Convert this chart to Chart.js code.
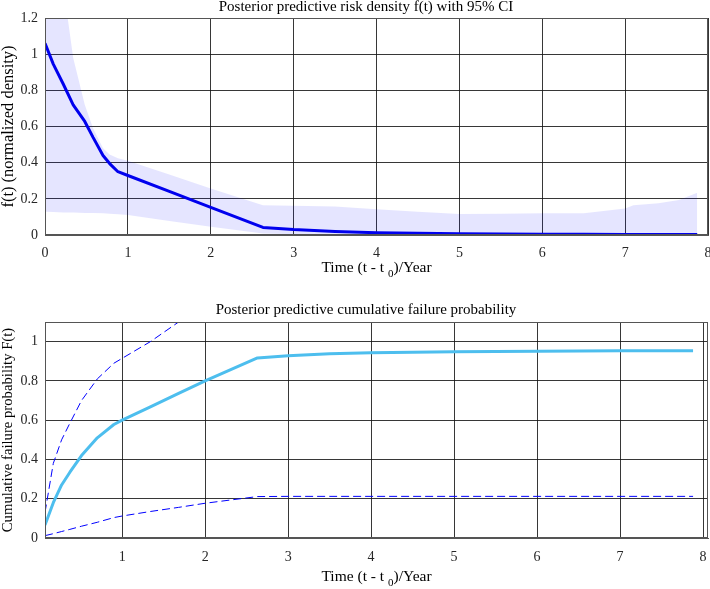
<!DOCTYPE html>
<html>
<head>
<meta charset="utf-8">
<script src="https://cdn.jsdelivr.net/npm/chart.js@4.4.1/dist/chart.umd.min.js"></script>
<style>
  html, body { margin: 0; padding: 0; background: #fff; }
  #wrap { position: relative; width: 710px; height: 589px; overflow: hidden; }
  canvas { position: absolute; left: 0; }
  #cTop { top: 0; }
  #cBot { top: 300px; }
</style>
</head>
<body>
<div id="wrap">
  <canvas id="cTop" width="710" height="300"></canvas>
  <canvas id="cBot" width="710" height="289"></canvas>
</div>
<script>
// --- density plot (top) ---
const tDensity     = [0, 0.1, 0.22, 0.34, 0.48, 0.58, 0.7, 0.78, 0.88, 1.0, 1.5, 2.0, 2.63, 3.0, 3.5, 4.0, 4.5, 5.0, 5.5, 6.0, 6.5, 7.0, 7.1, 7.4, 7.65, 7.87];
const densityMean  = [1.06, 0.945, 0.835, 0.72, 0.628, 0.54, 0.44, 0.395, 0.35, 0.329, 0.241, 0.153, 0.042, 0.03, 0.02, 0.013, 0.009, 0.007, 0.005, 0.004, 0.004, 0.003, 0.003, 0.003, 0.003, 0.003];
const densityUpper = [2.2, 1.8, 1.38, 0.98, 0.72, 0.59, 0.48, 0.445, 0.425, 0.41, 0.335, 0.257, 0.165, 0.162, 0.158, 0.142, 0.128, 0.116, 0.118, 0.12, 0.12, 0.147, 0.165, 0.176, 0.193, 0.234];
const densityLower = [0.128, 0.127, 0.125, 0.124, 0.122, 0.121, 0.12, 0.118, 0.115, 0.11, 0.078, 0.046, 0.008, 0.004, 0.002, 0.002, 0.001, 0.001, 0.001, 0.001, 0.001, 0.001, 0.001, 0.001, 0.001, 0.001];

// --- cumulative plot (bottom) ---
const tCdf     = [0.07, 0.17, 0.27, 0.37, 0.51, 0.7, 0.9, 1.0, 1.34, 1.68, 2.0, 2.63, 3.0, 3.5, 4.0, 5.0, 6.0, 7.0, 7.88];
const cdfMean  = [0.066, 0.18, 0.27, 0.335, 0.42, 0.51, 0.578, 0.6, 0.668, 0.736, 0.8, 0.917, 0.928, 0.938, 0.943, 0.948, 0.951, 0.953, 0.954];
const cdfUpper = [0.13, 0.38, 0.5, 0.585, 0.7, 0.81, 0.89, 0.915, 1.0, 1.1, 1.19, 1.36, 1.37, 1.38, 1.38, 1.38, 1.38, 1.38, 1.38];
const cdfLower = [0.012, 0.022, 0.033, 0.044, 0.06, 0.08, 0.104, 0.112, 0.135, 0.156, 0.177, 0.211, 0.212, 0.212, 0.212, 0.212, 0.212, 0.212, 0.212];

// tick labels
const xTicksTop = [0, 1, 2, 3, 4, 5, 6, 7, 8];
const yTicksTop = [0, 0.2, 0.4, 0.6, 0.8, 1, 1.2];
const xTicksBot = [1, 2, 3, 4, 5, 6, 7, 8];
const yTicksBot = [0, 0.2, 0.4, 0.6, 0.8, 1];

const serif = "'Liberation Serif', 'Times New Roman', serif";
Chart.defaults.font.family = serif;
Chart.defaults.font.size = 14;
Chart.defaults.color = '#262626';

const pts = (xs, ys) => xs.map((x, i) => ({ x: x, y: ys[i] }));

// fix axis box size and drop the extra label padding chart.js adds
function fixSize(size) {
  return function (scale) {
    if (scale.isHorizontal()) scale.height = size; else scale.width = size;
    scale.paddingLeft = 0; scale.paddingRight = 0;
    scale.paddingTop = 0; scale.paddingBottom = 0;
  };
}
function useTicks(list) {
  return function (scale) { scale.ticks = list.map(v => ({ value: v })); };
}

// box around plot area, title, and x label with a subscript t0
const axesBox = {
  id: 'axesBox',
  afterDraw(chart, args, opts) {
    const { ctx, chartArea: a } = chart;
    ctx.save();
    ctx.strokeStyle = '#555';
    ctx.lineWidth = 1;
    ctx.strokeRect(Math.round(a.left) + 0.5, Math.round(a.top) + 0.5,
      Math.round(a.right - a.left) - 1, Math.round(a.bottom - a.top) - 1);

    ctx.fillStyle = '#000';
    ctx.textBaseline = 'middle';
    ctx.font = '15px ' + serif;
    ctx.textAlign = 'center';
    ctx.fillText(opts.text, opts.x, opts.y);

    // x label: "Time (t - t" + subscript "0" + ")/Year"
    const big = '15.5px ' + serif, small = '11px ' + serif;
    const p1 = 'Time (t - t ', p2 = '0', p3 = ')/Year';
    ctx.font = big;
    const w1 = ctx.measureText(p1).width, w3 = ctx.measureText(p3).width;
    ctx.font = small;
    const w2 = ctx.measureText(p2).width;
    const cx = (a.left + a.right) / 2;
    let x = cx - (w1 + w2 + w3) / 2;
    ctx.textAlign = 'left';
    ctx.font = big;
    ctx.fillText(p1, x, opts.xLabelY);
    x += w1;
    ctx.font = small;
    ctx.fillText(p2, x, opts.xLabelY + 6);
    x += w2;
    ctx.font = big;
    ctx.fillText(p3, x, opts.xLabelY);
    ctx.restore();
  }
};

function baseScales(xmin, xmax, ymin, ymax, xt, yt, yTitle, yTitleSize, xHeight, xPad) {
  return {
    x: {
      type: 'linear', min: xmin, max: xmax,
      afterBuildTicks: useTicks(xt),
      afterFit: fixSize(xHeight),
      grid: { color: 'rgba(20,20,20,0.85)', lineWidth: 1, drawTicks: false },
      border: { color: '#555' },
      ticks: { padding: xPad, callback: v => String(v) },
      title: { display: false }
    },
    y: {
      type: 'linear', min: ymin, max: ymax,
      afterBuildTicks: useTicks(yt),
      afterFit: fixSize(45),
      grid: { color: 'rgba(20,20,20,0.85)', lineWidth: 1, drawTicks: false },
      border: { color: '#555' },
      ticks: { padding: 7, callback: v => String(+v.toFixed(1)) },
      title: { display: true, text: yTitle, color: '#000', font: { size: yTitleSize }, padding: { top: -1, bottom: 0 } }
    }
  };
}

new Chart(document.getElementById('cTop'), {
  type: 'line',
  data: {
    datasets: [
      { data: pts(tDensity, densityMean), borderColor: '#0000ee', borderWidth: 3, pointRadius: 0, tension: 0, fill: false, borderJoinStyle: 'round' },
      { data: pts(tDensity, densityUpper), borderWidth: 0, borderColor: 'rgba(0,0,0,0)', pointRadius: 0, tension: 0,
        fill: '+1', backgroundColor: 'rgba(0,0,255,0.1)' },
      { data: pts(tDensity, densityLower), borderWidth: 0, borderColor: 'rgba(0,0,0,0)', pointRadius: 0, tension: 0, fill: false }
    ]
  },
  options: {
    responsive: false,
    animation: false,
    devicePixelRatio: 1,
    layout: { padding: { top: 18, right: 2, left: 0, bottom: 0 } },
    plugins: {
      legend: { display: false },
      tooltip: { enabled: false },
      axesBox: { text: 'Posterior predictive risk density f(t) with 95% CI', x: 366, y: 7, xLabelY: 268 }
    },
    scales: baseScales(0, 8, 0, 1.2, xTicksTop, yTicksTop, 'f(t) (normalized density)', 16.5, 65, 10)
  },
  plugins: [axesBox]
});

new Chart(document.getElementById('cBot'), {
  type: 'line',
  data: {
    datasets: [
      { data: pts(tCdf, cdfMean), borderColor: 'rgb(77,190,238)', borderWidth: 3, pointRadius: 0, tension: 0, fill: false, borderJoinStyle: 'round' },
      { data: pts(tCdf, cdfUpper), borderColor: '#0000ff', borderWidth: 1, borderDash: [8, 4], pointRadius: 0, tension: 0, fill: false },
      { data: pts(tCdf, cdfLower), borderColor: '#0000ff', borderWidth: 1, borderDash: [8, 4], pointRadius: 0, tension: 0, fill: false }
    ]
  },
  options: {
    responsive: false,
    animation: false,
    devicePixelRatio: 1,
    layout: { padding: { top: 22, right: 2, left: 0, bottom: 0 } },
    plugins: {
      legend: { display: false },
      tooltip: { enabled: false },
      axesBox: { text: 'Posterior predictive cumulative failure probability', x: 366, y: 10.5, xLabelY: 277 }
    },
    scales: baseScales(0.07, 8.06, 0, 1.1, xTicksBot, yTicksBot, 'Cumulative failure probability F(t)', 14.7, 51, 11)
  },
  plugins: [axesBox]
});
</script>
</body>
</html>
